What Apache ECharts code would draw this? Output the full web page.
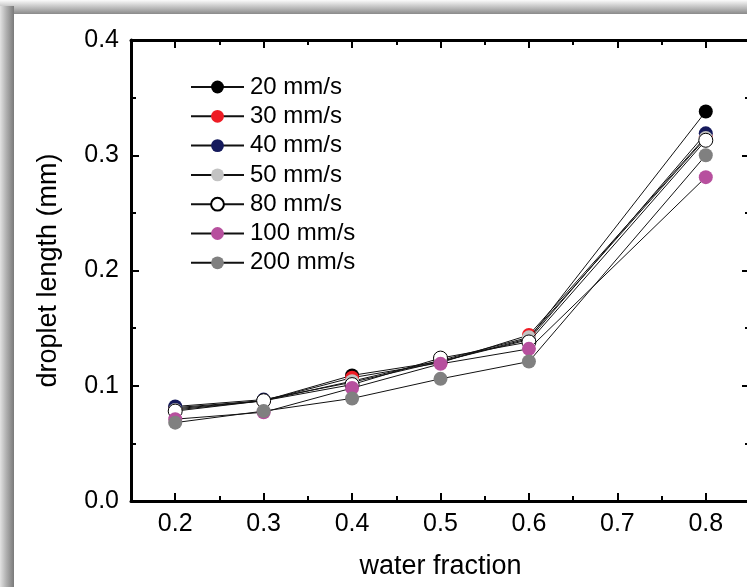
<!DOCTYPE html>
<html>
<head>
<meta charset="utf-8">
<script src="https://cdn.jsdelivr.net/npm/echarts@6/dist/echarts.min.js"></script>
<style>
  html, body { margin: 0; padding: 0; background: #ffffff; }
  #page { position: relative; width: 747px; height: 587px; overflow: hidden; background: #ffffff; }
  #bandTop { position: absolute; left: 0; top: 0; width: 747px; height: 14px;
             background: linear-gradient(to bottom, #fbfbfb 0%, #c8c8c8 45%, #8a8a8a 100%); }
  #bandLeft { position: absolute; left: 0; top: 6px; width: 14px; height: 581px;
              background: linear-gradient(to right, #e2e2e2 0%, #b0b0b0 45%, #7a7a7a 100%); }
  /* the drawing area is a bit wider than the page so the right frame falls just off the edge */
  #chart { position: absolute; left: 0; top: 0; width: 760px; height: 587px; }
</style>
</head>
<body>
<div id="page">
  <div id="bandTop"></div>
  <div id="bandLeft"></div>
  <div id="chart"></div>
</div>
<script>
// water fraction values on the x axis
const waterFraction = [0.2, 0.3, 0.4, 0.5, 0.6, 0.8];

// droplet length (mm) for each flow speed
const speedNames = ['20 mm/s', '30 mm/s', '40 mm/s', '50 mm/s', '80 mm/s', '100 mm/s', '200 mm/s'];
const len20  = [0.081, 0.087, 0.109, 0.121, 0.141, 0.338];
const len30  = [0.080, 0.087, 0.107, 0.120, 0.144, 0.316];
const len40  = [0.082, 0.088, 0.103, 0.121, 0.140, 0.319];
const len50  = [0.079, 0.087, 0.104, 0.122, 0.142, 0.315];
const len80  = [0.078, 0.087, 0.101, 0.124, 0.138, 0.313];
const len100 = [0.071, 0.077, 0.098, 0.119, 0.132, 0.281];
const len200 = [0.068, 0.078, 0.089, 0.106, 0.121, 0.300];
const lengths = [len20, len30, len40, len50, len80, len100, len200];

const markerColors = ['#000000', '#ee1c25', '#151a5c', '#c3c3c3', '#ffffff', '#b7509e', '#808080'];

const FONT = "'Liberation Sans', Arial, Helvetica, sans-serif";

const series = speedNames.map((name, i) => ({
  name: name,
  type: 'line',
  xAxisIndex: 0,
  yAxisIndex: 0,
  data: waterFraction.map((x, j) => [x, lengths[i][j]]),
  symbol: 'circle',
  symbolSize: 14,
  lineStyle: { color: '#111111', width: 1 },
  itemStyle: {
    color: markerColors[i],
    borderColor: i === 4 ? '#000000' : markerColors[i],
    borderWidth: i === 4 ? 1 : 0,
    opacity: 1
  },
  emphasis: { disabled: true },
  animation: false,
  z: 2 + i
}));

const axisLineStyle = { lineStyle: { color: '#000', width: 3 } };
const tickStyle = { color: '#000', width: 2 };

const chart = echarts.init(document.getElementById('chart'), null, { renderer: 'canvas' });
chart.setOption({
  backgroundColor: 'transparent',
  animation: false,
  grid: { left: 131, top: 40, right: 10, bottom: 86, containLabel: false, outerBoundsMode: 'none' },
  legend: {
    orient: 'vertical',
    left: 190,
    top: 75,
    padding: 0,
    itemWidth: 53,
    itemHeight: 16,
    itemGap: 5.3,
    data: speedNames,
    textStyle: { fontFamily: FONT, fontSize: 24, color: '#000', lineHeight: 22, padding: [0, 0, 0, 1] }
  },
  xAxis: [
    {
      // bottom axis: line plus ticks (long ticks at tenths come from minor ticks)
      type: 'value', position: 'bottom', min: 0.15, max: 0.85, interval: 0.1,
      axisLine: axisLineStyle,
      axisTick: { show: true, inside: true, length: 5, lineStyle: tickStyle },
      minorTick: { show: true, splitNumber: 2, length: 8, lineStyle: tickStyle },
      axisLabel: { show: false },
      splitLine: { show: false },
      name: 'water fraction', nameLocation: 'middle', nameGap: 52,
      nameTextStyle: { fontFamily: FONT, fontSize: 27, color: '#000' }
    },
    {
      // bottom tick labels at 0.2 ... 0.8
      type: 'value', position: 'bottom', min: 0.15, max: 0.85, interval: 0.05,
      axisLine: { show: false }, axisTick: { show: false }, splitLine: { show: false },
      axisLabel: {
        show: true, margin: 11, fontFamily: FONT, fontSize: 25, color: '#000',
        formatter: v => (Math.abs(v * 10 - Math.round(v * 10)) < 1e-6 ? v.toFixed(1) : '')
      }
    },
    {
      // mirrored top axis
      type: 'value', position: 'top', min: 0.15, max: 0.85, interval: 0.1,
      axisLine: axisLineStyle,
      axisTick: { show: true, inside: true, length: 5, lineStyle: tickStyle },
      minorTick: { show: true, splitNumber: 2, length: 8, lineStyle: tickStyle },
      axisLabel: { show: false },
      splitLine: { show: false }
    }
  ],
  yAxis: [
    {
      type: 'value', position: 'left', min: 0, max: 0.4, interval: 0.1,
      axisLine: axisLineStyle,
      axisTick: { show: true, inside: true, length: 8, lineStyle: tickStyle },
      minorTick: { show: true, splitNumber: 2, length: 5, lineStyle: tickStyle },
      splitLine: { show: false },
      axisLabel: { show: true, margin: 12, fontFamily: FONT, fontSize: 25, color: '#000',
                   formatter: v => v.toFixed(1) },
      name: 'droplet length (mm)', nameLocation: 'middle', nameGap: 69,
      nameTextStyle: { fontFamily: FONT, fontSize: 27, color: '#000' }
    },
    {
      // mirrored right axis
      type: 'value', position: 'right', min: 0, max: 0.4, interval: 0.1,
      axisLine: axisLineStyle,
      axisTick: { show: true, inside: true, length: 8, lineStyle: tickStyle },
      minorTick: { show: true, splitNumber: 2, length: 5, lineStyle: tickStyle },
      splitLine: { show: false },
      axisLabel: { show: false }
    }
  ],
  series: series
});
</script>
</body>
</html>
